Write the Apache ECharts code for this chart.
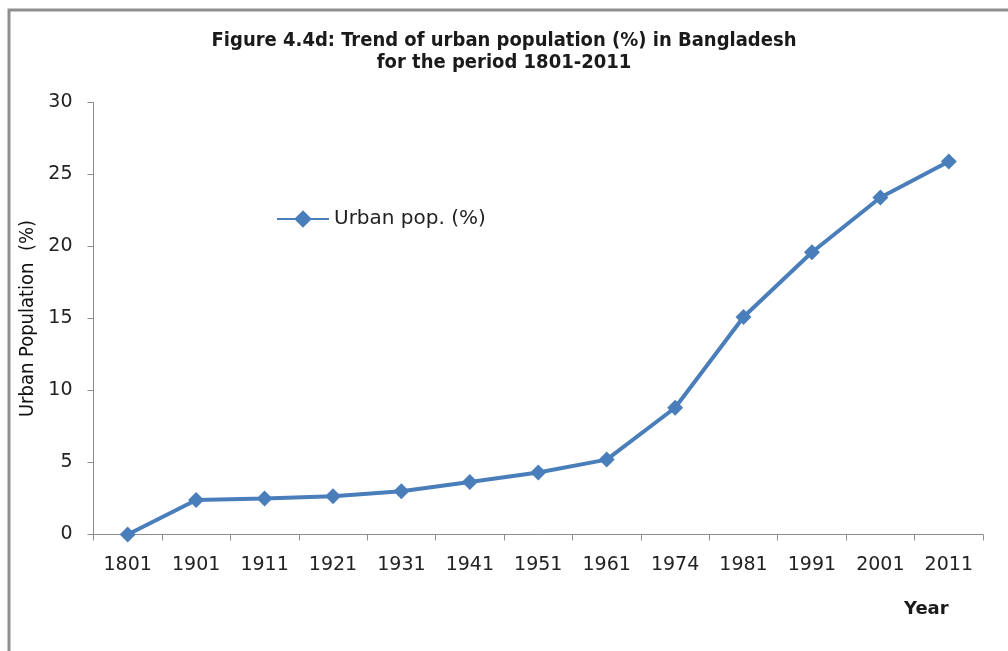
<!DOCTYPE html>
<html>
<head>
<meta charset="utf-8">
<script src="https://cdn.jsdelivr.net/npm/echarts@6/dist/echarts.min.js"></script>
<style>
  html, body { margin: 0; padding: 0; background: #fff; }
  #chart { width: 1008px; height: 651px; }
</style>
</head>
<body>
<div id="chart"></div>
<script>
// Census years and urban share of total population (%)
const years = ['1801', '1901', '1911', '1921', '1931', '1941', '1951', '1961', '1974', '1981', '1991', '2001', '2011'];
const urbanPct = [0, 2.4, 2.5, 2.65, 3.0, 3.65, 4.3, 5.2, 8.8, 15.1, 19.6, 23.4, 25.9];
const yTicks = { min: 0, max: 30, interval: 5 };

const titleLines = ['Figure 4.4d: Trend of urban population (%) in Bangladesh', 'for the period 1801-2011'];
const seriesName = 'Urban pop. (%)';
const yName = 'Urban Population  (%)';
const xName = 'Year';

const blue = '#4a7ebb';
const axisGray = '#8c8c8c';
const narrow = '"Liberation Sans Narrow", "DejaVu Sans Condensed", "Noto Sans", sans-serif';
const wide = '"DejaVu Sans", Verdana, sans-serif';

const chart = echarts.init(document.getElementById('chart'), null, { renderer: 'canvas' });

chart.setOption({
  backgroundColor: '#ffffff',
  animation: false,
  title: {
    text: titleLines.join('\n'),
    left: 'center',
    top: 25,
    textStyle: { fontFamily: narrow, fontWeight: 'bold', fontSize: 20, lineHeight: 22, color: '#1a1a1a' }
  },
  legend: {
    left: 271,
    top: 204,
    itemWidth: 52,
    itemHeight: 22,
    itemGap: 10,
    textStyle: { fontFamily: wide, fontSize: 20, color: '#222' },
    data: [seriesName]
  },
  grid: { left: 93.5, right: 25, top: 102.5, bottom: 116.5, containLabel: false },
  xAxis: {
    type: 'category',
    data: years,
    boundaryGap: true,
    axisLine: { lineStyle: { color: axisGray, width: 1 } },
    axisTick: { show: true, length: 6, lineStyle: { color: axisGray } },
    axisLabel: { fontFamily: wide, fontSize: 19, color: '#222', margin: 21 },
    splitLine: { show: false }
  },
  yAxis: {
    type: 'value',
    min: yTicks.min,
    max: yTicks.max,
    interval: yTicks.interval,
    name: yName,
    nameLocation: 'middle',
    nameGap: 46,
    nameTextStyle: { fontFamily: narrow, fontWeight: 'normal', fontSize: 20, color: '#111' },
    axisLine: { show: true, lineStyle: { color: axisGray, width: 1 } },
    axisTick: { show: true, length: 6, lineStyle: { color: axisGray } },
    axisLabel: { fontFamily: wide, fontSize: 19, color: '#222', margin: 21 },
    splitLine: { show: false }
  },
  series: [{
    name: seriesName,
    type: 'line',
    data: urbanPct,
    symbol: 'diamond',
    symbolSize: 16,
    lineStyle: { color: blue, width: 4 },
    itemStyle: { color: blue },
    emphasis: { disabled: true }
  }],
  graphic: [
    {
      type: 'text',
      left: 904,
      top: 600,
      style: { text: xName, fontFamily: wide, fontWeight: 'bold', fontSize: 18, fill: '#1a1a1a' }
    },
    {
      type: 'polyline',
      shape: { points: [[9, 651], [9, 10], [1008, 10]] },
      style: { stroke: '#8f8f8f', lineWidth: 3, fill: null }
    }
  ]
});
</script>
</body>
</html>
